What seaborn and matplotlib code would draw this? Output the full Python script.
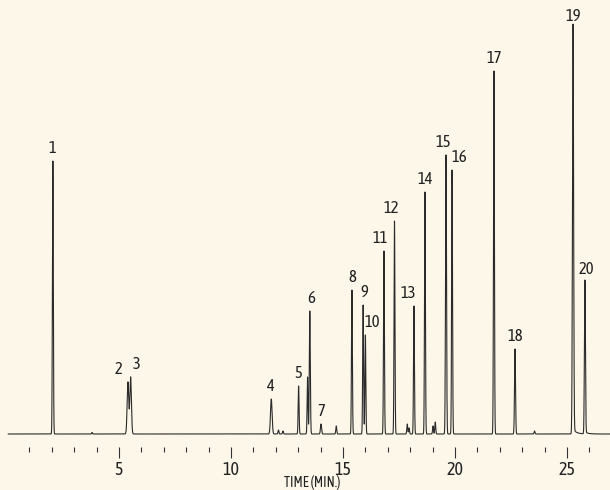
import numpy as np
import pandas as pd
import matplotlib.pyplot as plt
import seaborn as sns

# peak table (retention time in min, height in detector units)
peak_ids = [str(i) for i in range(1, 21)]
peak_times = [2.05, 5.40, 5.52, 11.80, 13.02, 13.52, 14.02, 15.40, 15.90, 16.00,
              16.83, 17.30, 18.17, 18.66, 19.60, 19.87, 21.74, 22.68, 25.27, 25.80]
peak_heights = [273, 52, 57, 35, 48, 123, 10, 144, 129, 99,
                183, 213, 128, 242, 279, 264, 363, 85, 405, 152]
peak_widths = [0.02, 0.035, 0.035, 0.035, 0.02, 0.022, 0.025, 0.02, 0.02, 0.02,
               0.02, 0.02, 0.02, 0.02, 0.022, 0.02, 0.02, 0.022, 0.025, 0.022]

# small unlabelled peaks / shoulders
minor_times = [3.8, 12.12, 12.32, 13.42, 14.70, 17.87, 17.95, 19.02, 19.12, 23.55]
minor_heights = [1.5, 4, 3, 57, 8, 10, 6, 8, 12, 3]

# label offsets (points) relative to the peak apex
label_dx = {'2': -7, '3': 4, '6': 1, '9': 1, '10': 5, '11': -3, '12': -2, '13': -4,
            '15': -2, '16': 5, '20': 1}

bg = '#fdf7ea'
sns.set_theme(style='white')
plt.rcParams['font.family'] = ['Asap Condensed', 'DejaVu Sans']

t = np.arange(0.05, 26.95, 0.002)
signal = np.zeros_like(t)
for rt, h, w in zip(peak_times, peak_heights, peak_widths):
    signal += h * np.exp(-0.5 * ((t - rt) / w) ** 2)
for rt, h in zip(minor_times, minor_heights):
    signal += h * np.exp(-0.5 * ((t - rt) / 0.02) ** 2)
# tailing on the last peaks
for rt, h in [(25.27, 405), (25.80, 152)]:
    signal += np.where(t > rt, 0.012 * h * np.exp(-(t - rt) / 0.15), 0)
df = pd.DataFrame({'time': t, 'signal': signal})

fig = plt.figure(figsize=(6.1, 4.9), dpi=100, facecolor=bg)
ax = fig.add_axes([0, 43 / 490, 1, 447 / 490])
ax.set_facecolor(bg)
sns.lineplot(data=df, x='time', y='signal', ax=ax, color='#2b2b2b', lw=0.8,
             estimator=None)

for pid, rt, h in zip(peak_ids, peak_times, peak_heights):
    ax.annotate(pid, (rt, h), xytext=(label_dx.get(pid, 0), 3),
                textcoords='offset points', ha='center', va='bottom',
                fontsize=12, color='#222222')

ax.set_xlim(-0.31, 26.92)
ax.set_ylim(-13, 434)
ax.set_xticks([5, 10, 15, 20, 25])
ax.set_xticks([m for m in range(1, 27) if m % 5], minor=True)
ax.tick_params(axis='x', which='major', direction='out', length=7.9, width=0.8,
               color='#333333', labelsize=13, labelcolor='#222222', pad=2,
               bottom=True)
ax.tick_params(axis='x', which='minor', direction='out', length=3.6, width=0.8,
               color='#333333', bottom=True)
ax.set_yticks([])
ax.set_xlabel('')
ax.set_ylabel('')
for s in ax.spines.values():
    s.set_visible(False)

fig.text(312 / 610, 0, 'TIME (MIN.)', ha='center', va='bottom',
         fontsize=10, color='#222222')

fig.savefig('out.png', dpi=100, facecolor=bg)
